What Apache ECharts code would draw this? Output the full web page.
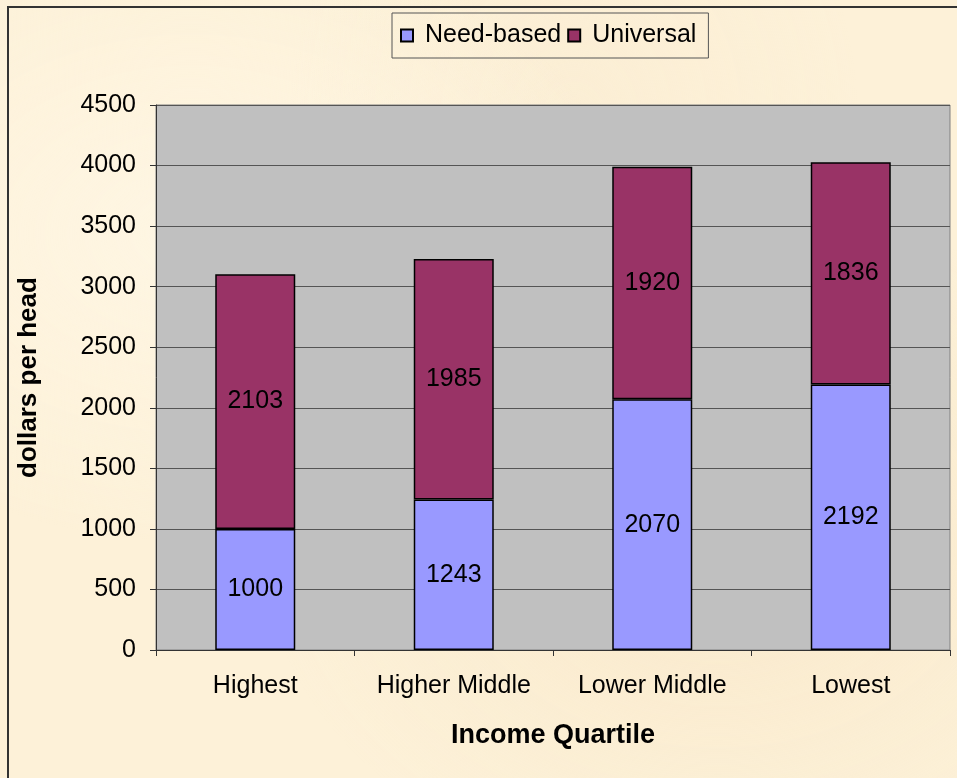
<!DOCTYPE html>
<html>
<head>
<meta charset="utf-8">
<script src="https://cdn.jsdelivr.net/npm/echarts@6/dist/echarts.min.js"></script>
<style>
  html, body { margin: 0; padding: 0; }
  body {
    width: 957px; height: 778px; overflow: hidden;
    background: #fdf1d8;
    background-image:
      radial-gradient(ellipse at 20% 30%, rgba(255,248,232,0.7), rgba(255,248,232,0) 40%),
      radial-gradient(ellipse at 75% 70%, rgba(246,228,196,0.6), rgba(246,228,196,0) 45%),
      radial-gradient(ellipse at 60% 15%, rgba(250,236,210,0.6), rgba(250,236,210,0) 35%);
  }
  .frame {
    position: absolute; left: 7px; top: 6px; width: 960px; height: 790px;
    border-left: 2px solid #333; border-top: 2px solid #333;
  }
  #chart { position: absolute; left: 0; top: 0; width: 957px; height: 778px; }
</style>
</head>
<body>
<div class="frame"></div>
<div id="chart"></div>
<script>
// 数据
const quartiles = ['Highest', 'Higher Middle', 'Lower Middle', 'Lowest'];
const needBased = [1000, 1243, 2070, 2192];
const universal = [2103, 1985, 1920, 1836];

const myChart = echarts.init(document.getElementById('chart'));

const labelStyle = {
  show: true,
  position: 'inside',
  color: '#000',
  fontSize: 25,
  fontFamily: 'Liberation Sans'
};

myChart.setOption({
  animation: false,
  textStyle: { fontFamily: 'Liberation Sans' },
  legend: {
    left: 392,
    top: 13,
    padding: [10, 12, 10, 8],
    borderColor: '#555',
    borderWidth: 1,
    itemWidth: 12,
    itemHeight: 12,
    itemGap: 6,
    icon: 'rect',
    textStyle: { fontSize: 25, color: '#000', padding: [0, 0, 0, 7] },
    data: ['Need-based', 'Universal']
  },
  grid: {
    left: 156,
    right: 7,
    top: 105,
    bottom: 128,
    outerBoundsMode: 'none',
    containLabel: false,
    show: true,
    backgroundColor: '#c0c0c0',
    borderColor: '#808080',
    borderWidth: 1
  },
  xAxis: {
    type: 'category',
    data: quartiles,
    name: 'Income Quartile',
    nameLocation: 'middle',
    nameGap: 72,
    nameTextStyle: { fontSize: 27, fontWeight: 'bold', color: '#000' },
    axisLine: { lineStyle: { color: '#333', width: 1 } },
    axisTick: { show: true, length: 6, lineStyle: { color: '#333' } },
    axisLabel: { fontSize: 25, color: '#000', margin: 24, interval: 0 }
  },
  yAxis: {
    type: 'value',
    min: 0,
    max: 4500,
    interval: 500,
    name: 'dollars per head',
    nameLocation: 'middle',
    nameGap: 114,
    nameTextStyle: { fontSize: 26, fontWeight: 'bold', color: '#000' },
    axisLine: { show: true, lineStyle: { color: '#333', width: 1 } },
    axisTick: { show: true, length: 6, lineStyle: { color: '#333' } },
    axisLabel: { fontSize: 25, color: '#000', margin: 20, formatter: v => String(v) },
    splitLine: { show: true, lineStyle: { color: '#555', width: 1 } }
  },
  series: [
    {
      name: 'Need-based',
      type: 'bar',
      stack: 'total',
      data: needBased,
      barWidth: 80,
      itemStyle: { color: '#9999ff', borderColor: '#000', borderWidth: 1.5 },
      label: labelStyle
    },
    {
      name: 'Universal',
      type: 'bar',
      stack: 'total',
      data: universal,
      barWidth: 80,
      itemStyle: { color: '#993366', borderColor: '#000', borderWidth: 1.5 },
      label: labelStyle
    }
  ]
});
</script>
</body>
</html>
